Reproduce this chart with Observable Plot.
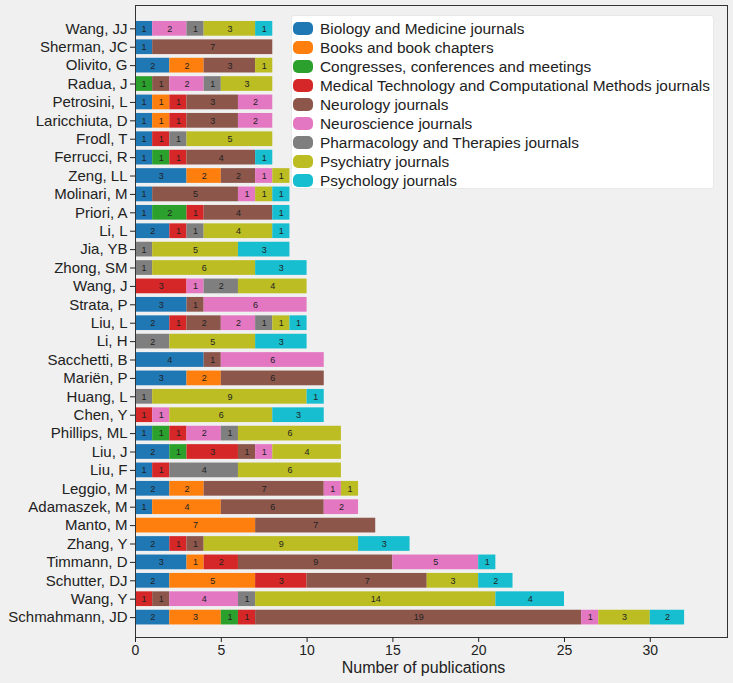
<!DOCTYPE html>
<html>
<head>
<meta charset="utf-8">
<script src="https://cdn.jsdelivr.net/npm/d3@7"></script>
<script src="https://cdn.jsdelivr.net/npm/@observablehq/plot@0.6"></script>
<style>
  html, body { margin: 0; padding: 0; background: #f0f0f0; }
  #wrap { position: relative; width: 733px; height: 683px; background: #f0f0f0; font-family: "Liberation Sans", Arial, sans-serif; }
  #legend { position: absolute; left: 291px; top: 15px; width: 423px; height: 174px; background: #ffffff; border: 1px solid #e8e8e8; border-radius: 3px; box-sizing: border-box; padding-top: 3px; }
  .item { display: flex; align-items: center; height: 19px; font-size: 15.4px; color: #222; white-space: nowrap; }
  .sw { width: 20px; height: 13px; border-radius: 5px; margin-left: 1px; margin-right: 7px; flex: none; }
</style>
</head>
<body>
<div id="wrap"><div id="legend"></div></div>
<script>
const authors = ["Wang, JJ","Sherman, JC","Olivito, G","Radua, J","Petrosini, L","Laricchiuta, D","Frodl, T","Ferrucci, R","Zeng, LL","Molinari, M","Priori, A","Li, L","Jia, YB","Zhong, SM","Wang, J","Strata, P","Liu, L","Li, H","Sacchetti, B","Mariën, P","Huang, L","Chen, Y","Phillips, ML","Liu, J","Liu, F","Leggio, M","Adamaszek, M","Manto, M","Zhang, Y","Timmann, D","Schutter, DJ","Wang, Y","Schmahmann, JD"];

const categories = ["Biology and Medicine journals","Books and book chapters","Congresses, conferences and meetings","Medical Technology and Computational Methods journals","Neurology journals","Neuroscience journals","Pharmacology and Therapies journals","Psychiatry journals","Psychology journals"];

const colors = ["#1f77b4","#ff7f0e","#2ca02c","#d62728","#8c564b","#e377c2","#7f7f7f","#bcbd22","#17becf"];

// counts per author, in category order
const counts = [
  [1,0,0,0,0,2,1,3,1],
  [1,0,0,0,7,0,0,0,0],
  [2,2,0,0,3,0,0,1,0],
  [0,0,1,0,1,2,1,3,0],
  [1,1,0,1,3,2,0,0,0],
  [1,1,0,1,3,2,0,0,0],
  [1,0,0,1,0,0,1,5,0],
  [1,0,1,1,4,0,0,0,1],
  [3,2,0,0,2,1,0,1,0],
  [1,0,0,0,5,1,0,1,1],
  [1,0,2,1,4,0,0,0,1],
  [2,0,0,1,0,0,1,4,1],
  [0,0,0,0,0,0,1,5,3],
  [0,0,0,0,0,0,1,6,3],
  [0,0,0,3,0,1,2,4,0],
  [3,0,0,0,1,6,0,0,0],
  [2,0,0,1,2,2,1,1,1],
  [0,0,0,0,0,0,2,5,3],
  [4,0,0,0,1,6,0,0,0],
  [3,2,0,0,6,0,0,0,0],
  [0,0,0,0,0,0,1,9,1],
  [0,0,0,1,0,1,0,6,3],
  [1,0,1,1,0,2,1,6,0],
  [2,0,1,3,1,1,0,4,0],
  [1,0,0,1,0,0,4,6,0],
  [2,2,0,0,7,1,0,1,0],
  [1,4,0,0,6,2,0,0,0],
  [0,7,0,0,7,0,0,0,0],
  [2,0,0,1,1,0,0,9,3],
  [3,1,0,2,9,5,0,0,1],
  [2,5,0,3,7,0,0,3,2],
  [0,0,0,1,1,4,1,14,4],
  [2,3,1,1,19,1,0,3,2]
];

const xTicks = [0, 5, 10, 15, 20, 25, 30];
const xLabel = "Number of publications";

const data = [];
authors.forEach((a, i) => {
  categories.forEach((c, j) => {
    if (counts[i][j] > 0) data.push({author: a, category: c, value: counts[i][j]});
  });
});

const chart = Plot.plot({
  width: 733,
  height: 683,
  marginTop: 5,
  marginBottom: 46,
  marginLeft: 135,
  marginRight: 6,
  style: {background: "transparent", fontFamily: "'Liberation Sans', Arial, sans-serif", color: "#222"},
  x: {domain: [0, 34.5]},
  y: {domain: authors, paddingInner: 0.2, paddingOuter: 0.775, align: 0.56, round: false},
  color: {domain: categories, range: colors},
  marks: [
    Plot.barX(data, Plot.stackX({x: "value", y: "author", fill: "category"})),
    Plot.text(data, Plot.stackX({x: "value", y: "author", z: "category", text: "value", fontSize: 9, fill: "#222"})),
    Plot.frame({stroke: "#333", strokeWidth: 1}),
    Plot.axisX({ticks: xTicks, tickSize: 5, tickPadding: 3, fontSize: 14, label: null}),
    Plot.text([xLabel], {frameAnchor: "bottom", dy: 30, dx: -8, lineAnchor: "middle", fontSize: 16, fill: "#222"}),
    Plot.axisY({tickSize: 5, tickPadding: 3, fontSize: 15, label: null})
  ]
});
chart.style.position = "absolute";
chart.style.left = "0";
chart.style.top = "0";
const wrap = document.getElementById("wrap");
wrap.insertBefore(chart, wrap.firstChild);

const legend = document.getElementById("legend");
categories.forEach((c, j) => {
  const item = document.createElement("div");
  item.className = "item";
  const sw = document.createElement("div");
  sw.className = "sw";
  sw.style.background = colors[j];
  const t = document.createElement("span");
  t.textContent = c;
  item.appendChild(sw);
  item.appendChild(t);
  legend.appendChild(item);
});
</script>
</body>
</html>
